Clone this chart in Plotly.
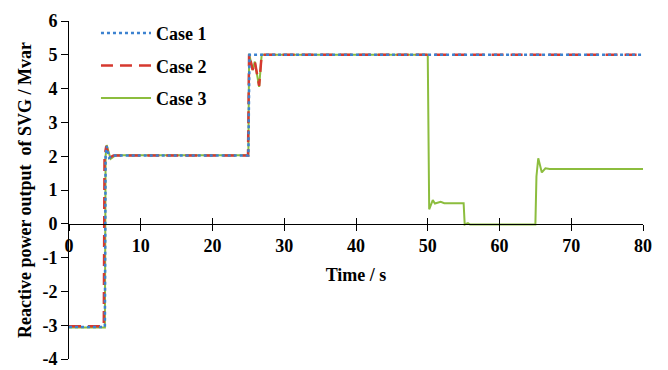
import plotly.graph_objects as go

# Time (s) and reactive power (Mvar) breakpoints
t_case1 = [0, 5.0, 5.1, 5.25, 5.6, 6.2, 25.0, 25.15, 80]
q_case1 = [-3.05, -3.05, 2.0, 2.3, 1.95, 2.02, 2.02, 5.0, 5.0]

t_case2 = [0, 4.85, 4.95, 5.2, 5.6, 6.2, 24.95, 25.1, 25.6, 25.9, 26.5, 26.85, 80]
q_case2 = [-3.03, -3.03, 2.0, 2.3, 1.95, 2.02, 2.02, 5.02, 4.55, 4.8, 4.08, 5.0, 5.0]

t_case3 = [0, 5.0, 5.1, 5.25, 5.8, 6.5, 25.0, 25.1, 25.6, 25.9, 26.5, 26.85,
           50.0, 50.2, 50.7, 51.0, 51.8, 52.3, 55.0, 55.15, 55.6, 55.9, 65.0,
           65.15, 65.4, 65.9, 66.4, 67.0, 80]
q_case3 = [-3.07, -3.07, 2.0, 2.33, 1.92, 2.03, 2.03, 5.03, 4.55, 4.8, 4.05, 5.0,
           5.0, 0.43, 0.7, 0.6, 0.65, 0.61, 0.61, -0.02, 0.02, -0.02, -0.02,
           1.4, 1.94, 1.52, 1.64, 1.62, 1.62]

x_ticks = [0, 10, 20, 30, 40, 50, 60, 70, 80]
y_ticks = [-4, -3, -2, -1, 0, 1, 2, 3, 4, 5, 6]

FONT = "Liberation Serif"

fig = go.Figure()
fig.add_trace(go.Scatter(x=t_case3, y=q_case3, mode="lines", name="<b>Case 3</b>",
                         line=dict(color="#8cbd3e", width=2), legendrank=3,
                         legendgroup="c3"))
fig.add_trace(go.Scatter(x=t_case2, y=q_case2, mode="lines", name="<b>Case 2</b>",
                         line=dict(color="#d6392f", width=2.5, dash="12px,7px"),
                         legendrank=2, legendgroup="c2"))
fig.add_trace(go.Scatter(x=t_case1, y=q_case1, mode="lines", name="<b>Case 1</b>",
                         line=dict(color="#3c82d0", width=2.5, dash="dot"),
                         legendrank=1, legendgroup="c1"))

fig.update_layout(
    width=660, height=362,
    margin=dict(l=61, r=25, t=7, b=11),
    paper_bgcolor="white", plot_bgcolor="white",
    font=dict(family=FONT, size=18, color="black"),
    showlegend=True,
    legend=dict(x=0.047, y=1.018, xanchor="left", yanchor="top",
                bgcolor="rgba(0,0,0,0)", tracegroupgap=6, itemwidth=50,
                font=dict(family=FONT, size=18, color="black")),
    xaxis=dict(range=[0, 80], tickvals=x_ticks,
               ticktext=[f"<b>{v}</b>" for v in x_ticks],
               showgrid=False, zeroline=False, showline=True,
               linecolor="black", linewidth=1, automargin=False,
               ticks="outside", ticklen=6, tickcolor="black",
               anchor="free", position=0.4,
               title=dict(text="<b>Time / s</b>", standoff=12,
                          font=dict(family=FONT, size=18))),
    xaxis2=dict(range=[0, 80], tickvals=x_ticks, matches="x", overlaying="x",
                showgrid=False, zeroline=False, showline=False, automargin=False,
                showticklabels=False, ticks="inside", ticklen=6,
                tickcolor="black", anchor="free", position=0.4),
    yaxis=dict(range=[-4, 6], tickvals=y_ticks,
               ticktext=[f"<b>{v}</b>" for v in y_ticks],
               showgrid=False, zeroline=False, showline=True,
               linecolor="black", linewidth=1, automargin=False,
               ticks="outside", ticklen=7, tickcolor="black",
               title=dict(text="<b>Reactive power output  of SVG / Mvar</b>",
                          standoff=6, font=dict(family=FONT, size=18))),
)
fig.add_trace(go.Scatter(x=[0], y=[0], xaxis="x2", mode="lines",
                         showlegend=False, hoverinfo="skip",
                         line=dict(color="rgba(0,0,0,0)")))

fig.write_html("out.html")
